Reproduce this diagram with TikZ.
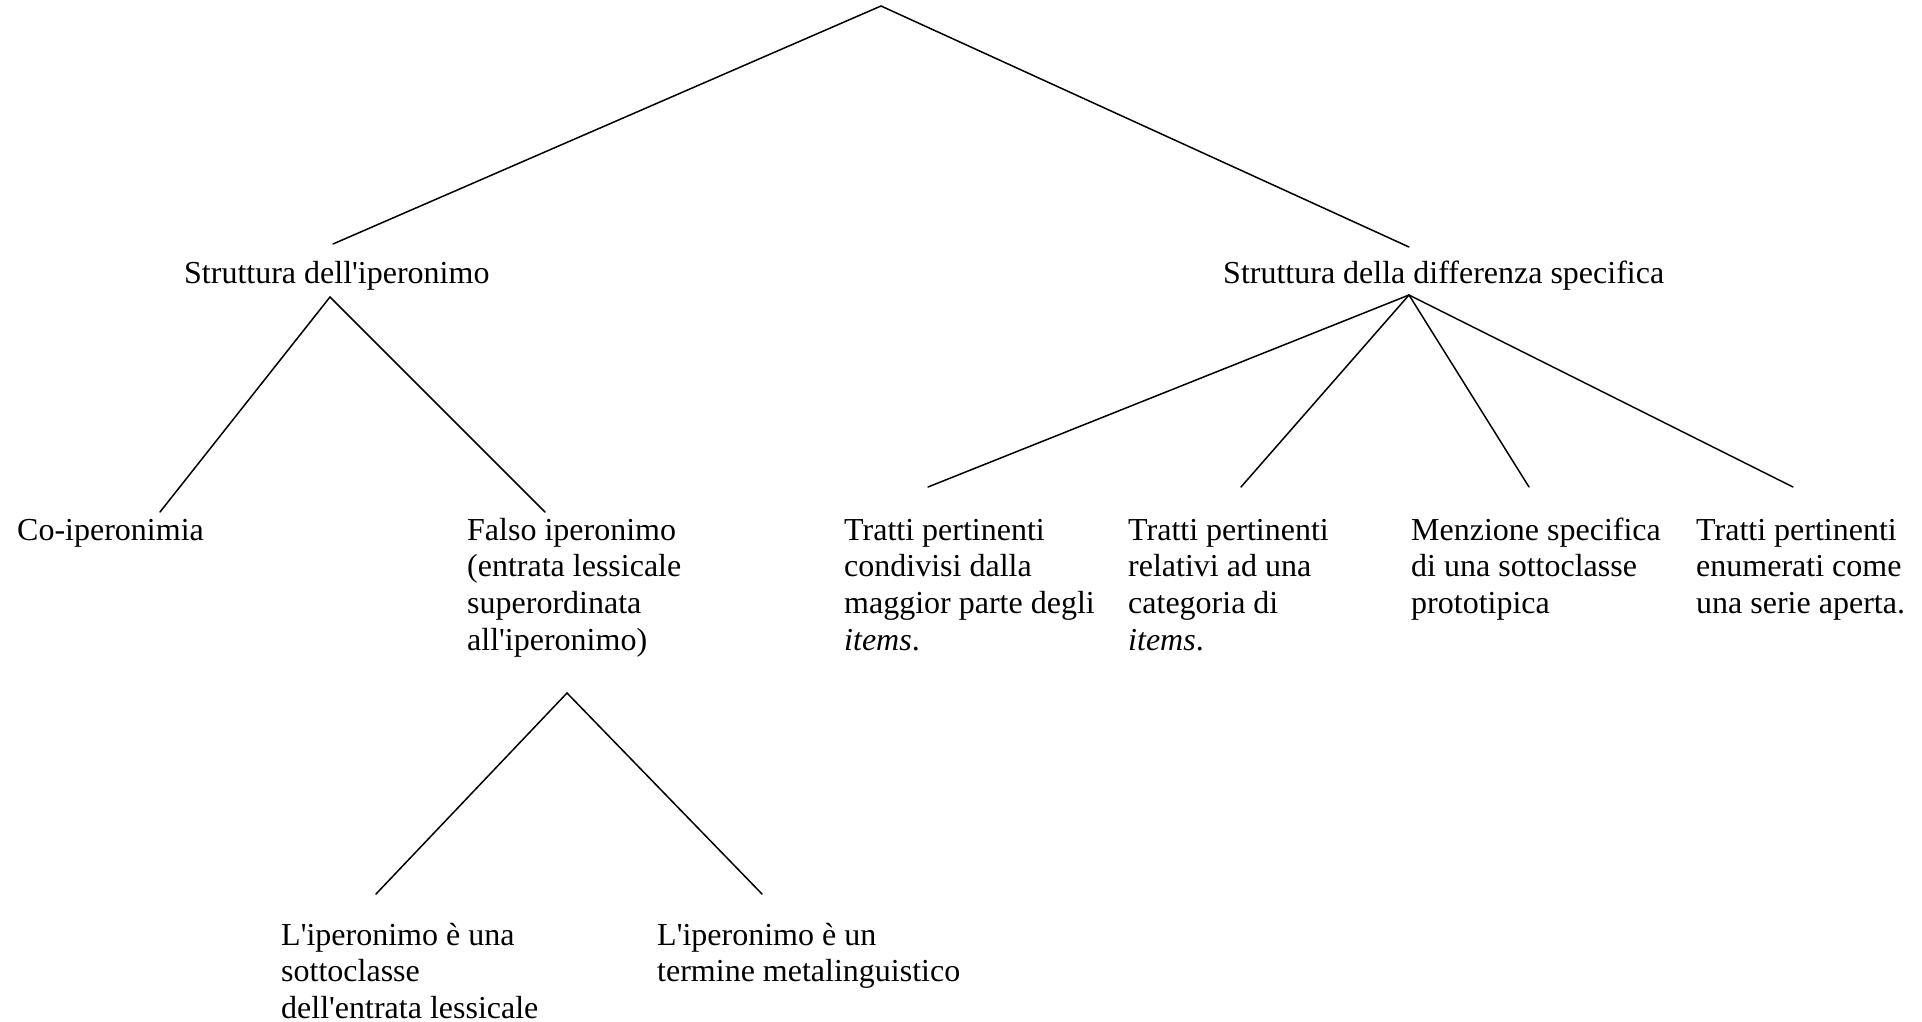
\documentclass[tikz,border=0pt]{standalone}
\usepackage{fontspec}
\setmainfont{Liberation Serif}
\newcommand{\ap}{\textquotesingle}
\begin{document}
\begin{tikzpicture}[x=1pt,y=-1pt,
  label/.style={anchor=base west,inner sep=0pt,font=\fontsize{32}{36.7}\selectfont},
  branch/.style={line width=1.5pt,line cap=round}]
\useasboundingbox (0,0) rectangle (1922,1022);

% text of the tree
\node[label] (iper) at (184,283) {Struttura dell\ap iperonimo};
\node[label] (diff) at (1223,283) {Struttura della differenza specifica};
\node[label] (coip) at (17,540) {Co-iperonimia};
\node[label] (falso) at (467,540) {\begin{tabular}[t]{@{}l@{}}Falso iperonimo\\(entrata lessicale\\superordinata\\all\ap iperonimo)\end{tabular}};
\node[label] (tp1) at (844,540) {\begin{tabular}[t]{@{}l@{}}Tratti pertinenti\\condivisi dalla\\maggior parte degli\\\textit{items}.\end{tabular}};
\node[label] (tp2) at (1128,540) {\begin{tabular}[t]{@{}l@{}}Tratti pertinenti\\relativi ad una\\categoria di\\\textit{items}.\end{tabular}};
\node[label] (menz) at (1411,540) {\begin{tabular}[t]{@{}l@{}}Menzione specifica\\di una sottoclasse\\prototipica\end{tabular}};
\node[label] (tp3) at (1696,540) {\begin{tabular}[t]{@{}l@{}}Tratti pertinenti\\enumerati come\\una serie aperta.\end{tabular}};
\node[label] (sotto) at (281,945) {\begin{tabular}[t]{@{}l@{}}L\ap iperonimo è una\\sottoclasse\\dell\ap entrata lessicale\end{tabular}};
\node[label] (meta) at (657,945) {\begin{tabular}[t]{@{}l@{}}L\ap iperonimo è un\\termine metalinguistico\end{tabular}};

% branch points
\coordinate (root) at (881,6);
\coordinate (iperTop) at (333,244);
\coordinate (diffTop) at (1409,247);
\coordinate (iperBot) at (330,297);
\coordinate (diffBot) at (1409,295);
\coordinate (coipTop) at (160,512);
\coordinate (falsoTop) at (545,512);
\coordinate (tp1Top) at (928,487);
\coordinate (tp2Top) at (1241,487);
\coordinate (menzTop) at (1529,487);
\coordinate (tp3Top) at (1793,487);
\coordinate (falsoBot) at (567,693);
\coordinate (sottoTop) at (376,894);
\coordinate (metaTop) at (762,894);

% branches
\draw[branch] (iperTop) -- (root) -- (diffTop);
\draw[branch] (coipTop) -- (iperBot) -- (falsoTop);
\draw[branch] (diffBot) -- (tp1Top);
\draw[branch] (diffBot) -- (tp2Top);
\draw[branch] (diffBot) -- (menzTop);
\draw[branch] (diffBot) -- (tp3Top);
\draw[branch] (sottoTop) -- (falsoBot) -- (metaTop);
\end{tikzpicture}
\end{document}
